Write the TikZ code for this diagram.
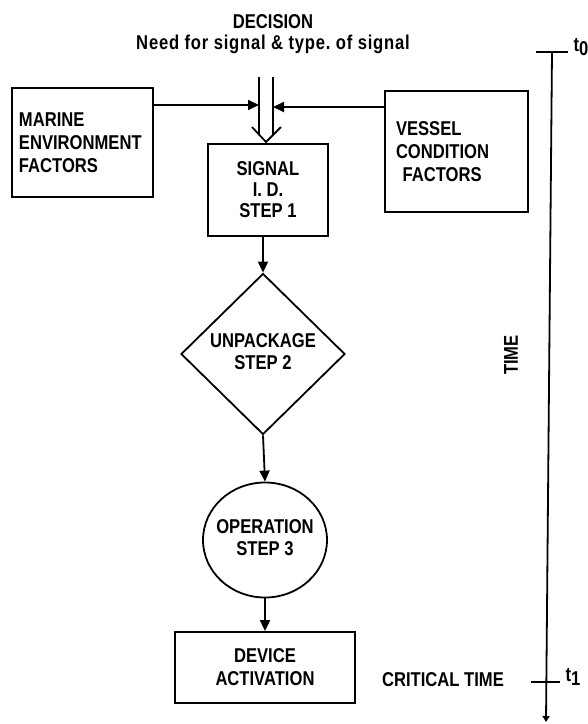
\documentclass[tikz,border=0pt]{standalone}
\usepackage{fontspec}
\setmainfont[FakeStretch=0.83]{Liberation Sans}
\usetikzlibrary{shapes.geometric,arrows.meta}
\newcommand{\twoline}[2]{\makebox[0pt]{\begin{tabular}{@{}c@{}}#1\\#2\end{tabular}}}
\begin{document}
\begin{tikzpicture}[x=1pt,y=-1pt,
  every node/.style={font=\fontsize{20}{23}\selectfont\bfseries},
  lw/.style={line width=1.8pt},
  box/.style={lw, draw, rectangle, inner sep=0pt},
  arr/.style={lw, -{Triangle[length=11pt,width=10pt]}},
  lbl/.style={inner sep=0pt, anchor=center}]
\useasboundingbox (0,0) rectangle (588,724);
\renewcommand{\arraystretch}{0.95}
% header text
\node[lbl] (dec) at (273,22) {DECISION};
\node[lbl, font=\fontsize{20}{23}\selectfont\bfseries\addfontfeature{LetterSpace=4}] (need) at (273,44) {Need for signal \& type.\ of signal};
% side boxes
\node[box, minimum width=141, minimum height=109, text width=127, inner xsep=7, align=left] (marine) at (82.5,142.5) {MARINE\\ENVIRONMENT\\FACTORS};
\node[box, minimum width=143, minimum height=121, text width=121, inner xsep=11, align=left] (vessel) at (456.5,151.5) {VESSEL\\CONDITION\\\ FACTORS};
% main chain
\node[box, minimum width=120, minimum height=92, align=center] (signal) at (268,190) {SIGNAL\\[-2pt]I. D.\\[-2pt]STEP 1};
\node[lw, draw, diamond, inner sep=0pt, minimum width=164, minimum height=161] (unpack) at (263,354) {\twoline{UNPACKAGE}{STEP 2}};
\node[lw, draw, ellipse, inner sep=0pt, minimum width=124, minimum height=115] (oper) at (265,540) {\twoline{OPERATION}{STEP 3}};
\node[box, minimum width=180, minimum height=71, align=center] (device) at (265,667.5) {DEVICE\\ACTIVATION};
% double input arrow
\coordinate (dl) at (259,77);
\coordinate (dr) at (273,77);
\coordinate (cl) at (252,127);
\coordinate (cr) at (281,127);
\coordinate (apex) at (266,142);
\draw[lw] (dl) -- (259,134.5);
\draw[lw] (dr) -- (273,135);
\draw[lw] (cl) -- (apex) -- (cr);
% side arrows
\coordinate (L) at (259,105);
\coordinate (R) at (273,107);
\draw[arr] (marine.east |- L) -- (L);
\draw[arr] (vessel.west |- R) -- (R);
% chain arrows
\draw[arr] (unpack.north |- signal.south) -- (unpack.north);
\draw[arr] (unpack.south) -- (oper.north);
\draw[arr] (oper.south) -- (oper.south |- device.north);
% time axis
\coordinate (ttop) at (552,52);
\coordinate (tbot) at (546,722);
\draw[lw, -{Triangle[length=6pt,width=7pt]}] (ttop) -- (tbot);
\draw[lw] (536,52) -- (568,52);
\draw[lw] (531,682) -- (560,682);
\node[lbl] (tzero) at (581,47) {t\raisebox{-0.45ex}{0}};
\node[lbl] (tone) at (573,677) {t\raisebox{-0.45ex}{1}};
\node[lbl] (crit) at (443,680) {CRITICAL TIME};
\node[lbl, rotate=90] (time) at (511,355) {TIME};
\end{tikzpicture}
\end{document}
